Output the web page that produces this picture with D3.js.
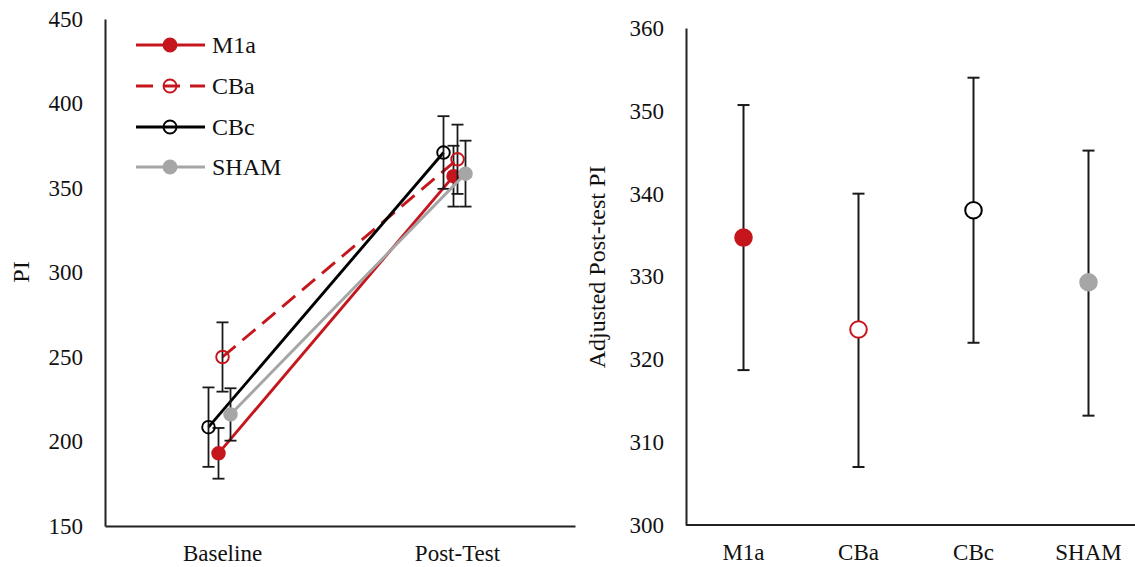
<!DOCTYPE html>
<html>
<head>
<meta charset="utf-8">
<script src="https://cdn.jsdelivr.net/npm/d3@7"></script>
<style>
  html, body { margin: 0; padding: 0; background: #fff; }
  svg { display: block; font-family: "Liberation Serif", "Times New Roman", serif; }
</style>
</head>
<body>
<svg id="chart" width="1135" height="567"></svg>
<script>
// ---------- data ----------
const timepoints = ["Baseline", "Post-Test"];
const groups = ["M1a", "CBa", "CBc", "SHAM"];
const m1aPI = [193, 357];
const m1aErr = [15, 18];
const cbaPI = [250, 367];
const cbaErr = [20.5, 20.5];
const cbcPI = [208.5, 371];
const cbcErr = [23.5, 21.5];
const shamPI = [216, 358.5];
const shamErr = [15.5, 19.5];
const leftTicks = [150, 200, 250, 300, 350, 400, 450];

const adjustedPI = [334.7, 323.6, 338.0, 329.3];
const adjustedLow = [318.7, 307.0, 322.0, 313.2];
const adjustedHigh = [350.7, 340.0, 354.0, 345.2];
const rightTicks = [300, 310, 320, 330, 340, 350, 360];

// ---------- styles ----------
const RED = "#C5161D", GRAY = "#A6A6A6", BLACK = "#000";
const seriesStyle = {
  M1a:  { color: RED,   dash: null,   fill: RED,   offset: -4 },
  CBa:  { color: RED,   dash: "17,9", fill: "none", offset: 0 },
  CBc:  { color: BLACK, dash: null,   fill: "none", offset: -14 },
  SHAM: { color: GRAY,  dash: null,   fill: GRAY,  offset: 8 }
};
const rightStyle = {
  M1a:  { stroke: RED,   fill: RED },
  CBa:  { stroke: RED,   fill: "#fff" },
  CBc:  { stroke: BLACK, fill: "#fff" },
  SHAM: { stroke: GRAY,  fill: GRAY }
};
const series = [
  { name: "M1a", values: m1aPI, err: m1aErr },
  { name: "CBa", values: cbaPI, err: cbaErr },
  { name: "CBc", values: cbcPI, err: cbcErr },
  { name: "SHAM", values: shamPI, err: shamErr }
];

const svg = d3.select("#chart");
const TEXT = "#111";
const FS = 23;
const LW = 2.9;

// ---------- left chart ----------
const yL = d3.scaleLinear().domain([150, 450]).range([526, 19]);
const xL = d3.scaleBand().domain(timepoints).range([105, 575]);
const cx = (name, i) => xL(timepoints[i]) + xL.bandwidth() / 2 + seriesStyle[name].offset;

const gL = svg.append("g");

function styleAxis(g) {
  g.select(".domain").attr("stroke", "#222").attr("stroke-width", 2);
  g.selectAll("text").attr("font-size", FS).attr("fill", TEXT)
    .attr("font-family", "Liberation Serif, Times New Roman, serif");
}

gL.append("g").attr("transform", "translate(105,0)")
  .call(d3.axisLeft(yL).tickValues(leftTicks).tickSize(0).tickPadding(22).tickFormat(d3.format("d")))
  .call(styleAxis);
gL.append("g").attr("transform", "translate(0,526)")
  .call(d3.axisBottom(xL).tickSize(0).tickPadding(19))
  .call(styleAxis);

gL.append("text").text("PI")
  .attr("transform", "translate(29,272) rotate(-90)")
  .attr("text-anchor", "middle").attr("font-size", 24).attr("fill", TEXT);

const line = d3.line();
series.forEach(s => {
  const st = seriesStyle[s.name];
  const g = gL.append("g");
  g.append("path")
    .attr("d", line(s.values.map((v, i) => [cx(s.name, i), yL(v)])))
    .attr("fill", "none").attr("stroke", st.color).attr("stroke-width", LW)
    .attr("stroke-dasharray", st.dash);
  s.values.forEach((v, i) => {
    const x = cx(s.name, i);
    const y0 = yL(v - s.err[i]), y1 = yL(v + s.err[i]);
    g.append("line").attr("x1", x).attr("x2", x).attr("y1", y0).attr("y2", y1)
      .attr("stroke", "#1a1a1a").attr("stroke-width", 1.8);
    [y0, y1].forEach(yy => g.append("line").attr("x1", x - 6).attr("x2", x + 6)
      .attr("y1", yy).attr("y2", yy).attr("stroke", "#1a1a1a").attr("stroke-width", 1.8));
    g.append("circle").attr("cx", x).attr("cy", yL(v)).attr("r", 6.3)
      .attr("fill", st.fill).attr("stroke", st.color).attr("stroke-width", 1.9);
  });
});

// legend
const legend = gL.append("g");
const legendRows = [45, 86, 127, 167];
groups.forEach((name, i) => {
  const st = seriesStyle[name];
  const y = legendRows[i];
  legend.append("line").attr("x1", 136).attr("x2", 205).attr("y1", y).attr("y2", y)
    .attr("stroke", st.color).attr("stroke-width", LW)
    .attr("stroke-dasharray", name === "CBa" ? "17,10" : null);
  legend.append("circle").attr("cx", 170).attr("cy", y).attr("r", 6.5)
    .attr("fill", st.fill).attr("stroke", st.color).attr("stroke-width", 1.9);
  legend.append("text").text(name).attr("x", 212).attr("y", y + 8)
    .attr("font-size", 24).attr("fill", TEXT);
});

// ---------- right chart ----------
const yR = d3.scaleLinear().domain([300, 360]).range([525, 28]);
const xR = d3.scaleBand().domain(groups).range([686, 1146]);
const gR = svg.append("g");

gR.append("g").attr("transform", "translate(686,0)")
  .call(d3.axisLeft(yR).tickValues(rightTicks).tickSize(0).tickPadding(22).tickFormat(d3.format("d")))
  .call(styleAxis);
const xAxisR = gR.append("g").attr("transform", "translate(0,525)")
  .call(d3.axisBottom(xR).tickSize(0).tickPadding(19))
  .call(styleAxis);
xAxisR.select(".domain").attr("d", "M686,0H1135");

gR.append("text").text("Adjusted Post-test PI")
  .attr("transform", "translate(605,267) rotate(-90)")
  .attr("text-anchor", "middle").attr("font-size", 24).attr("fill", TEXT);

groups.forEach((name, i) => {
  const x = xR(name) + xR.bandwidth() / 2;
  const y0 = yR(adjustedLow[i]), y1 = yR(adjustedHigh[i]);
  gR.append("line").attr("x1", x).attr("x2", x).attr("y1", y0).attr("y2", y1)
    .attr("stroke", "#1a1a1a").attr("stroke-width", 2);
  [y0, y1].forEach(yy => gR.append("line").attr("x1", x - 6).attr("x2", x + 6)
    .attr("y1", yy).attr("y2", yy).attr("stroke", "#1a1a1a").attr("stroke-width", 2));
  const st = rightStyle[name];
  gR.append("circle").attr("cx", x).attr("cy", yR(adjustedPI[i])).attr("r", 8.3)
    .attr("fill", st.fill).attr("stroke", st.stroke).attr("stroke-width", 2);
});
</script>
</body>
</html>
